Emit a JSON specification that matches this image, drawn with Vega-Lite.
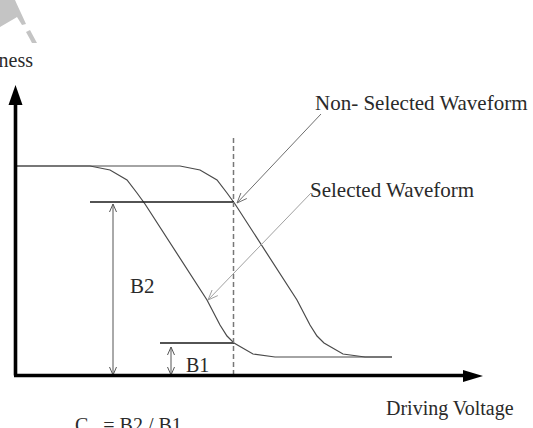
{
  "$schema": "https://vega.github.io/schema/vega-lite/v6.json",
  "width": 533,
  "height": 428,
  "padding": 0,
  "autosize": {"type": "none"},
  "background": "white",
  "config": {"view": {"stroke": null}},
  "datasets": {
    "watermark": [
      {"part": "a", "x": -1.55, "y": 37.55, "y2": 34.85},
      {"part": "a", "x": -0.05, "y": 37.55, "y2": 35.73},
      {"part": "a", "x": 0.15, "y": 37.11, "y2": 35.85},
      {"part": "a", "x": 0.65, "y": 36.02, "y2": 35.05},
      {"part": "a", "x": 1.05, "y": 35.15, "y2": 35.15},
      {"part": "b", "x": 1.05, "y": 34.35, "y2": 34.35},
      {"part": "b", "x": 1.45, "y": 34.55, "y2": 33.62},
      {"part": "b", "x": 1.65, "y": 34.18, "y2": 33.25},
      {"part": "b", "x": 2.15, "y": 33.25, "y2": 33.25}
    ],
    "curves": [
      {"series": "Selected", "x": 0.15, "y": 20.95},
      {"series": "Selected", "x": 7.45, "y": 20.95},
      {"series": "Selected", "x": 9.45, "y": 20.55},
      {"series": "Selected", "x": 11.15, "y": 19.55},
      {"series": "Selected", "x": 12.15, "y": 18.25},
      {"series": "Selected", "x": 12.95, "y": 17.15},
      {"series": "Selected", "x": 19.15, "y": 7.55},
      {"series": "Selected", "x": 20.45, "y": 5.05},
      {"series": "Selected", "x": 21.15, "y": 3.95},
      {"series": "Selected", "x": 21.85, "y": 3.25},
      {"series": "Selected", "x": 23.75, "y": 2.15},
      {"series": "Selected", "x": 25.95, "y": 1.85},
      {"series": "Selected", "x": 37.65, "y": 1.85},
      {"series": "Non-Selected", "x": 0.15, "y": 20.95},
      {"series": "Non-Selected", "x": 16.45, "y": 20.95},
      {"series": "Non-Selected", "x": 18.45, "y": 20.55},
      {"series": "Non-Selected", "x": 20.15, "y": 19.55},
      {"series": "Non-Selected", "x": 21.15, "y": 18.25},
      {"series": "Non-Selected", "x": 21.95, "y": 17.15},
      {"series": "Non-Selected", "x": 28.15, "y": 7.55},
      {"series": "Non-Selected", "x": 29.45, "y": 5.05},
      {"series": "Non-Selected", "x": 30.15, "y": 3.95},
      {"series": "Non-Selected", "x": 30.85, "y": 3.25},
      {"series": "Non-Selected", "x": 32.75, "y": 2.15},
      {"series": "Non-Selected", "x": 34.95, "y": 1.85},
      {"series": "Non-Selected", "x": 37.65, "y": 1.85}
    ],
    "levels": [
      {"level": "B2", "x": 7.45, "x2": 21.85, "y": 17.35, "y2": 17.35},
      {"level": "B1", "x": 14.45, "x2": 21.85, "y": 3.25, "y2": 3.25}
    ],
    "cursor": [
      {"x": 21.8, "x2": 21.8, "y": 0.05, "y2": 23.75}
    ],
    "brackets": [
      {"seg": "b2-shaft", "ord": 0, "x": 9.75, "y": 17.15},
      {"seg": "b2-shaft", "ord": 1, "x": 9.75, "y": 0.05},
      {"seg": "b2-top", "ord": 0, "x": 9.4, "y": 16.35},
      {"seg": "b2-top", "ord": 1, "x": 9.75, "y": 17.15},
      {"seg": "b2-top", "ord": 2, "x": 10.1, "y": 16.35},
      {"seg": "b2-bottom", "ord": 0, "x": 9.4, "y": 0.85},
      {"seg": "b2-bottom", "ord": 1, "x": 9.75, "y": 0.05},
      {"seg": "b2-bottom", "ord": 2, "x": 10.1, "y": 0.85},
      {"seg": "b1-shaft", "ord": 0, "x": 15.55, "y": 2.85},
      {"seg": "b1-shaft", "ord": 1, "x": 15.55, "y": 0.05},
      {"seg": "b1-top", "ord": 0, "x": 15.2, "y": 2.05},
      {"seg": "b1-top", "ord": 1, "x": 15.55, "y": 2.85},
      {"seg": "b1-top", "ord": 2, "x": 15.9, "y": 2.05},
      {"seg": "b1-bottom", "ord": 0, "x": 15.2, "y": 0.85},
      {"seg": "b1-bottom", "ord": 1, "x": 15.55, "y": 0.05},
      {"seg": "b1-bottom", "ord": 2, "x": 15.9, "y": 0.85}
    ],
    "pointers": [
      {"target": "Non-Selected", "seg": "ns-shaft", "ord": 0, "x": 30.55, "y": 26.15},
      {"target": "Non-Selected", "seg": "ns-shaft", "ord": 1, "x": 22.15, "y": 17.25},
      {"target": "Non-Selected", "seg": "ns-head", "ord": 0, "x": 23.13, "y": 17.7},
      {"target": "Non-Selected", "seg": "ns-head", "ord": 1, "x": 22.15, "y": 17.25},
      {"target": "Non-Selected", "seg": "ns-head", "ord": 2, "x": 22.54, "y": 18.25},
      {"target": "Selected", "seg": "s-shaft", "ord": 0, "x": 29.55, "y": 18.25},
      {"target": "Selected", "seg": "s-shaft", "ord": 1, "x": 19.25, "y": 7.55},
      {"target": "Selected", "seg": "s-head", "ord": 0, "x": 20.23, "y": 7.99},
      {"target": "Selected", "seg": "s-head", "ord": 1, "x": 19.25, "y": 7.55},
      {"target": "Selected", "seg": "s-head", "ord": 2, "x": 19.66, "y": 8.55}
    ],
    "axes": [
      {"axis": "Brightness", "x": 0, "x2": 0, "y": 0, "y2": 27.55},
      {"axis": "Driving Voltage", "x": -0.15, "x2": 44.95, "y": 0, "y2": 0}
    ],
    "arrowheads": [
      {"dir": "up", "x": 0, "y": 28.05},
      {"dir": "right", "x": 45.75, "y": -0.05}
    ],
    "labelsLarge": [
      {"label": "Non- Selected Waveform", "x": 29.95, "y": 26.55},
      {"label": "Selected Waveform", "x": 29.45, "y": 17.85},
      {"label": "B2", "x": 11.45, "y": 8.25}
    ],
    "labelsSmall": [
      {"label": "B1", "x": 17.05, "y": 0.35},
      {"label": "Driving Voltage", "x": 37.05, "y": -3.95},
      {"label": "C\u00a0\u00a0\u00a0= B2 / B1", "x": 5.95, "y": -5.65}
    ],
    "labelsRight": [
      {"label": "Brightness", "x": 1.75, "y": 30.85}
    ]
  },
  "encoding": {
    "x": {"field": "x", "type": "quantitative", "scale": {"domain": [-1.55, 51.75], "nice": false, "zero": false}, "axis": null},
    "y": {"field": "y", "type": "quantitative", "scale": {"domain": [-5.25, 37.55], "nice": false, "zero": false}, "axis": null}
  },
  "layer": [
    {
      "data": {"name": "watermark"},
      "mark": {"type": "area", "color": "#c4c4c4", "opacity": 1},
      "encoding": {"y2": {"field": "y2"}, "detail": {"field": "part"}}
    },
    {
      "data": {"name": "curves"},
      "mark": {"type": "line", "color": "#4a4a4a", "strokeWidth": 1.2},
      "encoding": {"detail": {"field": "series"}}
    },
    {
      "data": {"name": "levels"},
      "mark": {"type": "rule", "color": "#1a1a1a", "strokeWidth": 1.3},
      "encoding": {"x2": {"field": "x2"}, "y2": {"field": "y2"}}
    },
    {
      "data": {"name": "cursor"},
      "mark": {"type": "rule", "color": "#777777", "strokeWidth": 1.5, "strokeDash": [5, 3]},
      "encoding": {"x2": {"field": "x2"}, "y2": {"field": "y2"}}
    },
    {
      "data": {"name": "brackets"},
      "mark": {"type": "line", "color": "#555555", "strokeWidth": 1},
      "encoding": {"detail": {"field": "seg"}, "order": {"field": "ord"}}
    },
    {
      "data": {"name": "pointers"},
      "mark": {"type": "line", "strokeWidth": 1},
      "encoding": {
        "detail": {"field": "seg"},
        "order": {"field": "ord"},
        "color": {"field": "target", "type": "nominal", "scale": {"domain": ["Non-Selected", "Selected"], "range": ["#6e6e6e", "#a0a0a0"]}, "legend": null}
      }
    },
    {
      "data": {"name": "axes"},
      "mark": {"type": "rule", "color": "#000000", "strokeWidth": 3.6},
      "encoding": {"x2": {"field": "x2"}, "y2": {"field": "y2"}}
    },
    {
      "data": {"name": "arrowheads"},
      "mark": {"type": "point", "filled": true, "color": "#000000", "opacity": 1, "size": 400, "strokeWidth": 0},
      "encoding": {
        "shape": {"field": "dir", "type": "nominal", "scale": {"domain": ["up", "right"], "range": ["M0,-1L0.7,1L-0.7,1Z", "M1,0L-1,0.6L-1,-0.6Z"]}, "legend": null}
      }
    },
    {
      "data": {"name": "labelsLarge"},
      "mark": {"type": "text", "align": "left", "baseline": "alphabetic", "font": "Liberation Serif", "fontSize": 21, "color": "#2a2a2a"},
      "encoding": {"text": {"field": "label"}}
    },
    {
      "data": {"name": "labelsSmall"},
      "mark": {"type": "text", "align": "left", "baseline": "alphabetic", "font": "Liberation Serif", "fontSize": 20, "color": "#2a2a2a"},
      "encoding": {"text": {"field": "label"}}
    },
    {
      "data": {"name": "labelsRight"},
      "mark": {"type": "text", "align": "right", "baseline": "alphabetic", "font": "Liberation Serif", "fontSize": 20, "color": "#2a2a2a"},
      "encoding": {"text": {"field": "label"}}
    }
  ]
}
